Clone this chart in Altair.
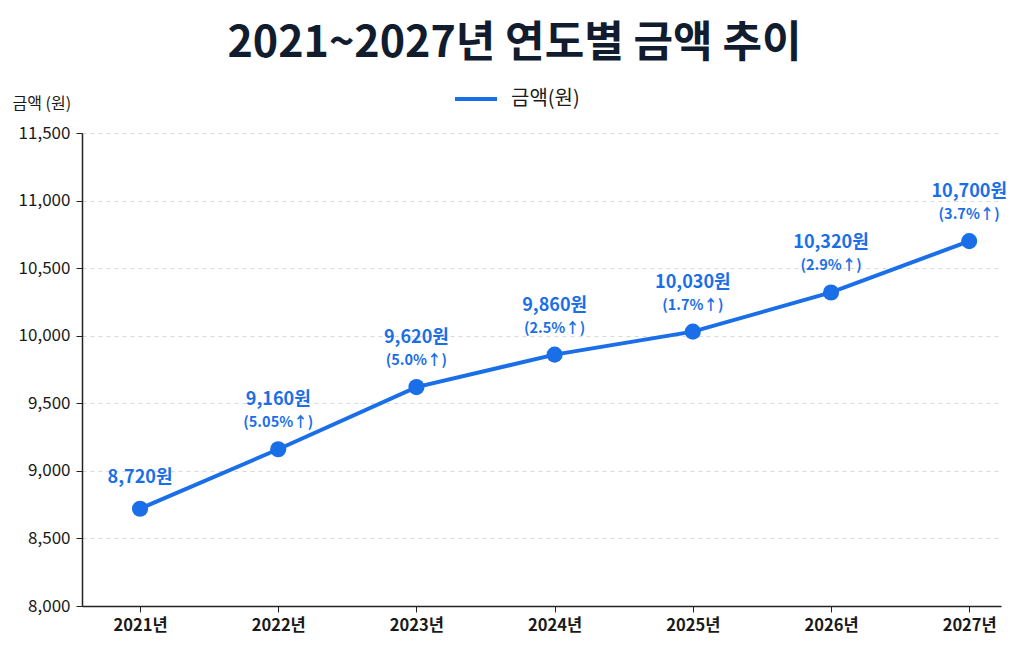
import altair as alt
import pandas as pd

# Yearly amounts (won) and growth versus the previous year
years = [2021, 2022, 2023, 2024, 2025, 2026, 2027]
amounts = [8720, 9160, 9620, 9860, 10030, 10320, 10700]
growth = ["", "(5.05%↑)", "(5.0%↑)", "(2.5%↑)", "(1.7%↑)", "(2.9%↑)", "(3.7%↑)"]
y_ticks = [8000, 8500, 9000, 9500, 10000, 10500, 11000, 11500]

series_name = "금액(원)"
blue = "#1a6fe8"
font = "Noto Sans CJK KR"

df = pd.DataFrame({
    "year": years,
    "amount": amounts,
    "growth": growth,
    "series": [series_name] * len(years),
})
df["label"] = df["amount"].map(lambda v: f"{v:,}원")

x = alt.X(
    "year:Q",
    scale=alt.Scale(domain=[2020.58, 2027.23], nice=False, zero=False),
    axis=alt.Axis(
        values=years,
        labelExpr="datum.value + '년'",
        title=None,
        grid=False,
        domainColor="#222222",
        domainWidth=1.5,
        tickColor="#222222",
        tickSize=6,
        labelFont=font,
        labelFontSize=16.5,
        labelFontWeight="bold",
        labelColor="#1a1a1a",
        labelPadding=5,
    ),
)
y = alt.Y(
    "amount:Q",
    scale=alt.Scale(domain=[8000, 11500], nice=False, zero=False),
    axis=alt.Axis(
        values=y_ticks,
        format=",d",
        title="금액 (원)",
        titleAngle=0,
        titleAlign="left",
        titleBaseline="middle",
        titleX=-70,
        titleY=-30,
        titleFont=font,
        titleFontSize=16,
        titleFontWeight="normal",
        titleColor="#1a1a1a",
        grid=True,
        gridDash=[4, 4],
        gridColor="#d9d9d9",
        domainColor="#222222",
        domainWidth=1.5,
        tickColor="#222222",
        tickSize=6,
        labelFont=font,
        labelFontSize=17,
        labelColor="#1a1a1a",
        labelPadding=6,
    ),
)

base = alt.Chart(df)

line = base.mark_line(strokeWidth=4).encode(
    x=x,
    y=y,
    color=alt.Color(
        "series:N",
        scale=alt.Scale(domain=[series_name], range=[blue]),
        legend=alt.Legend(
            title=None,
            orient="none",
            legendX=371,
            legendY=-57,
            symbolType="stroke",
            symbolStrokeWidth=4,
            symbolSize=1764,
            labelFont=font,
            labelFontSize=20,
            labelColor="#1a1a1a",
            labelOffset=12,
        ),
    ),
)

points = base.mark_circle(size=260, opacity=1, color=blue).encode(x=x, y=y)

value_text = base.mark_text(
    font=font, fontSize=18, fontWeight="bold", color=blue, dy=-49
).encode(x=x, y=y, text="label:N").transform_filter("datum.growth != ''")

first_text = base.mark_text(
    font=font, fontSize=18, fontWeight="bold", color=blue, dy=-31
).encode(x=x, y=y, text="label:N").transform_filter("datum.growth == ''")

growth_text = base.mark_text(
    font=font, fontSize=14.5, fontWeight="bold", color=blue, dy=-26
).encode(x=x, y=y, text="growth:N").transform_filter("datum.growth != ''")

chart = (
    alt.layer(line, points, value_text, first_text, growth_text)
    .properties(
        width=919,
        height=473,
        background="white",
        autosize=alt.AutoSizeParams(type="none"),
        padding={"left": 82, "top": 133, "right": 23, "bottom": 42},
        title=alt.TitleParams(
            "2021~2027년 연도별 금액 추이",
            font=font,
            fontSize=43,
            fontWeight="bold",
            color="#111c2e",
            anchor="middle",
            offset=20,
            dx=-27,
            dy=10,
        ),
    )
    .configure_view(stroke=None, strokeWidth=0)
)

chart.save("out.html", embed_options={"renderer": "svg", "actions": False})
